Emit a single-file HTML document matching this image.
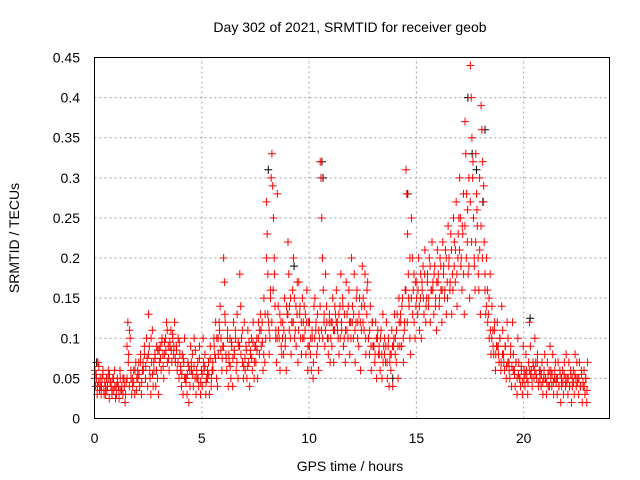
<!DOCTYPE html>
<html><head><meta charset="utf-8"><style>
body{margin:0;background:#fff}
svg{display:block;font-family:"Liberation Sans",sans-serif}
</style></head><body>
<svg id="c" width="640" height="480">
<text x="350" y="32" font-size="14" text-anchor="middle">Day 302 of 2021, SRMTID for receiver geob</text>
<text x="350" y="471" font-size="14" text-anchor="middle">GPS time / hours</text>
<text x="19" y="238" font-size="14" text-anchor="middle" transform="rotate(-90 19 238)">SRMTID / TECUs</text>
<g id="grid"></g><g id="marks"></g>
<rect x="94.5" y="57.5" width="515" height="361" fill="none" stroke="#000"/>
</svg>
<script>
const xTicks=[0,5,10,15,20];
const yTicks=[0,0.05,0.1,0.15,0.2,0.25,0.3,0.35,0.4,0.45];
const yTickLabels=["0","0.05","0.1","0.15","0.2","0.25","0.3","0.35","0.4","0.45"];
const binStarts=[0,0.25,0.5,0.75,1,1.25,1.5,1.75,2,2.25,2.5,2.75,3,3.25,3.5,3.75,4,4.25,4.5,4.75,5,5.25,5.5,5.75,6,6.25,6.5,6.75,7,7.25,7.5,7.75,8,8.25,8.5,8.75,9,9.25,9.5,9.75,10,10.25,10.5,10.75,11,11.25,11.5,11.75,12,12.25,12.5,12.75,13,13.25,13.5,13.75,14,14.25,14.5,14.75,15,15.25,15.5,15.75,16,16.25,16.5,16.75,17,17.25,17.5,17.75,18,18.25,18.5,18.75,19,19.25,19.5,19.75,20,20.25,20.5,20.75,21,21.25,21.5,21.75,22,22.25,22.5,22.75];
const binValues=[
[.06,.04,.05,.03,.07,.045,.035],[.04,.03,.05,.06,.035,.045],[.03,.05,.04,.06,.025,.045],[.04,.03,.05,.035,.06,.025],
[.03,.05,.04,.025,.06,.035],[.04,.03,.05,.02,.045],[.05,.12,.08,.04,.1,.06,.03],[.04,.06,.03,.07,.05],
[.05,.07,.04,.08,.03,.06],[.06,.08,.05,.1,.04],[.13,.09,.05,.03,.07,.11,.04],[.06,.08,.04,.09,.05,.03],
[.07,.09,.06,.1,.08,.05],[.08,.1,.12,.07,.09,.06],[.09,.11,.07,.1,.08,.12],[.07,.09,.06,.1,.05,.08],
[.06,.04,.08,.03,.07,.1,.05],[.05,.03,.07,.02,.06,.09],[.06,.08,.04,.1,.05,.03],[.05,.07,.04,.09,.03,.06],
[.04,.1,.06,.08,.03,.05],[.05,.07,.03,.09,.04,.06],[.06,.1,.08,.12,.05,.04],[.08,.12,.14,.1,.06,.09],
[.2,.17,.12,.08,.06,.1,.04],[.07,.1,.05,.09,.04,.12],[.08,.11,.06,.13,.05,.09],[.18,.14,.1,.07,.05,.12],
[.06,.09,.05,.11,.07,.04],[.08,.1,.06,.12,.05,.09],[.07,.1,.05,.12,.08,.13],[.09,.12,.06,.15,.07,.1],
[.27,.23,.18,.12,.08,.1,.15,.3],[.33,.29,.25,.2,.14,.1,.07],[.28,.14,.1,.06,.12,.08],[.12,.08,.15,.1,.06,.13],
[.22,.18,.14,.1,.08,.12,.16],[.2,.15,.11,.09,.13,.07],[.17,.13,.1,.08,.15,.12],[.14,.11,.08,.16,.06,.12],
[.12,.08,.06,.1,.05,.14],[.15,.11,.08,.13,.06,.1],[.32,.3,.25,.2,.16,.12,.09],[.18,.14,.1,.08,.12,.07],
[.12,.09,.15,.07,.11,.13],[.16,.12,.1,.08,.14,.18],[.11,.15,.09,.13,.07,.17],[.13,.1,.16,.08,.12,.2],
[.14,.1,.18,.07,.12,.16],[.12,.09,.15,.06,.11,.19],[.15,.11,.18,.08,.13,.17],[.1,.08,.14,.06,.12,.09],
[.09,.07,.12,.05,.1,.08],[.08,.06,.11,.05,.13,.09],[.1,.07,.12,.05,.09,.04],[.08,.06,.11,.04,.09,.13],
[.1,.07,.13,.05,.15,.09],[.12,.09,.15,.07,.11,.16],[.31,.28,.23,.18,.14,.1,.08],[.25,.2,.16,.12,.1,.14],
[.17,.13,.2,.11,.15,.1],[.16,.19,.13,.21,.12,.15],[.18,.14,.2,.12,.16,.22],[.17,.13,.19,.15,.11,.21],
[.18,.14,.2,.16,.12,.22],[.19,.15,.21,.13,.17,.24],[.2,.16,.23,.13,.18,.25],[.22,.17,.27,.14,.2,.25],
[.3,.25,.2,.16,.23,.28,.13],[.37,.33,.28,.22,.18,.3,.15],[.44,.4,.35,.3,.25,.2,.16],[.33,.28,.24,.2,.16,.3,.13],
[.39,.36,.32,.27,.22,.18,.13],[.2,.16,.13,.1,.18,.08],[.14,.11,.08,.12,.06,.09],[.12,.09,.07,.1,.06,.14],
[.11,.08,.06,.09,.05,.12],[.1,.07,.05,.09,.04,.12],[.08,.06,.04,.07,.03,.1],[.07,.05,.04,.06,.03,.09],
[.06,.04,.08,.05,.03,.07],[.12,.09,.06,.04,.07,.05],[.1,.07,.05,.08,.04,.06],[.06,.04,.07,.03,.05,.08],
[.05,.03,.07,.04,.06,.09],[.06,.04,.08,.03,.05,.07],[.05,.03,.07,.04,.06,.02],[.04,.06,.03,.07,.05,.08],
[.05,.03,.07,.04,.06,.02],[.04,.06,.03,.08,.05,.07],[.05,.03,.07,.04,.06,.02],[.04,.06,.03,.05,.02,.07]];
const binValuesExtra=[
[.05,.055,.04,.065],[.05,.04,.055,.03],[.04,.035,.05,.055],[.045,.035,.05,.04],
[.04,.045,.035,.05],[.035,.05,.04,.03],[.09,.07,.11,.05],[.05,.045,.06,.035],
[.06,.055,.07,.045],[.07,.09,.065,.075],[.08,.06,.1,.055],[.07,.075,.06,.085],
[.085,.075,.095,.065],[.095,.085,.11,.075],[.095,.085,.105,.09],[.075,.085,.07,.095],
[.065,.055,.075,.05],[.045,.055,.065,.04],[.07,.055,.065,.085],[.06,.05,.075,.045],
[.055,.07,.065,.045],[.06,.055,.075,.05],[.07,.09,.075,.1],[.1,.11,.085,.075],
[.09,.13,.075,.11],[.08,.065,.095,.075],[.085,.1,.07,.095],[.09,.08,.11,.065],
[.075,.085,.065,.095],[.085,.075,.095,.07],[.09,.085,.1,.11],[.11,.095,.08,.13],
[.2,.13,.11,.16],[.12,.16,.18,.11],[.1,.11,.13,.09],[.1,.11,.09,.14],
[.13,.11,.15,.12],[.12,.1,.14,.17],[.11,.14,.12,.1],[.1,.13,.12,.09],
[.09,.1,.11,.07],[.1,.12,.09,.11],[.14,.11,.1,.13],[.11,.12,.1,.13],
[.1,.12,.11,.14],[.12,.11,.13,.1],[.12,.14,.1,.11],[.11,.14,.12,.1],
[.12,.13,.11,.15],[.1,.13,.12,.14],[.12,.14,.1,.16],[.1,.11,.09,.12],
[.09,.08,.1,.11],[.09,.1,.08,.07],[.08,.09,.07,.1],[.07,.08,.09,.1],
[.08,.11,.09,.12],[.13,.14,.1,.12],[.16,.12,.15,.2],[.15,.13,.18,.17],
[.15,.16,.14,.18],[.17,.15,.18,.14],[.17,.15,.19,.16],[.16,.18,.14,.17],
[.17,.15,.19,.16],[.18,.16,.2,.15],[.19,.17,.21,.16],[.19,.21,.18,.23],
[.21,.19,.24,.18],[.24,.2,.26,.19],[.27,.22,.32,.19],[.22,.26,.18,.21],
[.24,.2,.29,.16],[.14,.12,.15,.11],[.1,.09,.11,.08],[.09,.08,.1,.07],
[.08,.07,.09,.065],[.07,.06,.08,.065],[.06,.055,.07,.05],[.055,.05,.065,.045],
[.05,.055,.06,.045],[.06,.055,.05,.065],[.06,.055,.07,.045],[.05,.055,.045,.06],
[.05,.045,.055,.04],[.05,.055,.045,.06],[.045,.05,.04,.055],[.05,.045,.055,.04],
[.045,.05,.04,.055],[.05,.045,.055,.04],[.045,.05,.04,.055],[.045,.04,.05,.035]];
const blackTimes=[0.1,8.1,10.6,10.65,14.6,17.4,17.6,17.8,18.1,18.2,20.3,13.9,9.3];
const blackValues=[0.07,0.31,0.32,0.3,0.28,0.4,0.33,0.31,0.27,0.36,0.125,0.05,0.19];
const binWidth=0.25;
const NS='http://www.w3.org/2000/svg';
const X0=94.5,X1=609.5,Y0=418.5,Y1=57.5,XMAX=24,YMAX=0.45;
function xs(t){return X0+(X1-X0)*t/XMAX;}
function ys(v){return Y0-(Y0-Y1)*v/YMAX;}
const grid=document.getElementById('grid'),marks=document.getElementById('marks');
function mk(tag,a,p){const e=document.createElementNS(NS,tag);for(const k in a)e.setAttribute(k,a[k]);p.appendChild(e);return e;}
xTicks.forEach(t=>{
  const x=xs(t);
  if(t>0){const g=mk('line',{x1:x,x2:x,y1:Y0,y2:Y1,stroke:'#a0a0a0','stroke-dasharray':'2,3'},grid);
  
  }
  const l=mk('text',{x:x,y:443,'font-size':14,'text-anchor':'middle'},grid);l.textContent=String(t);
  
  
});
yTicks.forEach((v,i)=>{
  const y=ys(v);
  if(v>0&&v<YMAX){const g=mk('line',{x1:X0,x2:X1,y1:y,y2:y,stroke:'#a0a0a0','stroke-dasharray':'2,3'},grid);
  
  }
  const l=mk('text',{x:80,y:y+5,'font-size':14,'text-anchor':'end'},grid);l.textContent=yTickLabels[i];
  
  
});
function cross(t,v,col,name){
  const x=xs(t),y=ys(v);
  const p=mk('path',{d:`M${x-4},${y}H${x+4}M${x},${y-4}V${y+4}`,stroke:col,'stroke-width':1,fill:'none'},marks);
  
  
}
blackTimes.forEach((t,i)=>cross(t,blackValues[i],'#000','black-point'));
binStarts.forEach((s,b)=>{const vals=binValues[b];vals.forEach((v,j)=>{cross(s+binWidth*(j+0.5)/vals.length,v,'#f00','red-point');});});
binStarts.forEach((s,b)=>{const vals=binValuesExtra[b];vals.forEach((v,j)=>{cross(s+binWidth*(j+0.2)/vals.length,v,'#f00','red-point');});});
</script>
</body></html>
